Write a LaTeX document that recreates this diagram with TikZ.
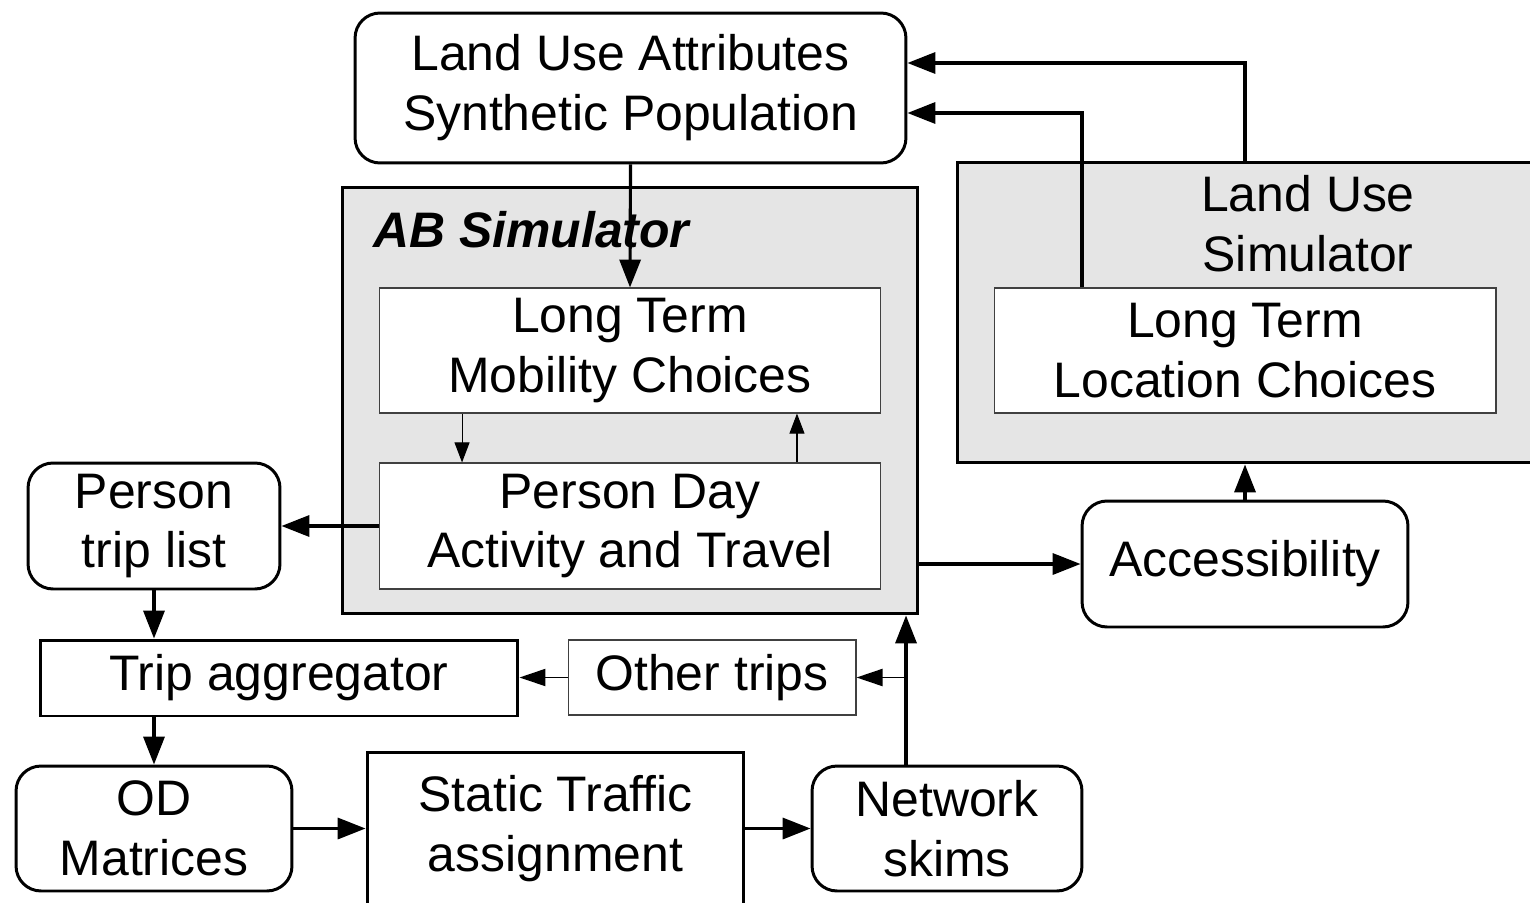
\documentclass[tikz,border=0pt]{standalone}
\usepackage{fontspec}
\setmainfont{Liberation Sans}
\usetikzlibrary{arrows.meta}

\begin{document}
\begin{tikzpicture}[x=0.02cm, y=-0.02cm,
    every node/.style={font=\fontsize{28.4}{34.1}\selectfont, align=center, inner sep=0pt},
    rbox/.style={draw, line width=1.7pt, rounded corners=0.5cm},
    tbox/.style={draw, line width=1.7pt},
    wbox/.style={draw=black!75, line width=0.6pt, fill=white},
    gbox/.style={draw, line width=1.7pt, fill=black!10},
    title/.style={font=\fontsize{28.4}{34.1}\selectfont\bfseries\itshape},
    arr/.style={-{Triangle[length=15.9pt,width=12pt]}, line width=1.8pt},
    marr/.style={-{Triangle[length=14.8pt,width=9.7pt]}, line width=1.1pt},
    tarr/.style={-{Triangle[length=11.4pt,width=8.5pt]}, line width=0.6pt}]
    \useasboundingbox (0,0) rectangle (1530,902);
    \clip (0,0) rectangle (1530,902);
    \node[rbox, minimum width=11.02cm, minimum height=3cm] (lua) at (630.5,88) {Land Use Attributes\\Synthetic Population};
    \node[gbox, minimum width=11.52cm, minimum height=8.54cm] (ab) at (630,400.5) {};
    \node[title, anchor=base west] (abt) at (373,247) {AB Simulator};
    \node[wbox, minimum width=10.04cm, minimum height=2.5cm] (ltm) at (630,350.5) {Long Term\\Mobility Choices};
    \node[wbox, minimum width=10.04cm, minimum height=2.52cm] (pda) at (630,526) {Person Day\\Activity and Travel};
    \node[gbox, minimum width=12.06cm, minimum height=6.02cm] (lus) at (1258.5,312.5) {};
    \node (lust) at (1308,224) {Land Use\\Simulator};
    \node[wbox, minimum width=10.04cm, minimum height=2.5cm] (ltl) at (1245,350.5) {Long Term\\Location Choices};
    \node[rbox, minimum width=5.04cm, minimum height=2.52cm] (ptl) at (154,526) {Person\\trip list};
    \node[tbox, minimum width=9.56cm, minimum height=1.52cm] (tag) at (279,678) {Trip aggregator};
    \node[wbox, minimum width=5.76cm, minimum height=1.5cm] (oth) at (712,677.5) {Other trips};
    \node[rbox, minimum width=5.52cm, minimum height=2.5cm] (od) at (154,828.5) {OD\\Matrices};
    \node[tbox, minimum width=7.54cm, minimum height=3.08cm] (sta) at (555.5,829) {Static Traffic\\assignment};
    \node[rbox, minimum width=5.4cm, minimum height=2.5cm] (nsk) at (947,828.5) {Network\\skims};
    \node[rbox, minimum width=6.52cm, minimum height=2.52cm] (acc) at (1245,564) {Accessibility};
    \coordinate (sk) at ([xshift=-0.82cm]nsk.north);
    \draw[arr] (lua.south) -- (ltm.north);
    \draw[tarr] ([xshift=-3.36cm]ltm.south) -- ([xshift=-3.36cm]pda.north);
    \draw[tarr] ([xshift=3.34cm]pda.north) -- ([xshift=3.34cm]ltm.south);
    \draw[arr] (pda.west) -- (pda.west -| ptl.east);
    \draw[arr] (ptl.south) -- (ptl.south |- tag.north);
    \draw[arr] (od.north |- tag.south) -- (od.north);
    \draw[arr] (od.east) -- (od.east -| sta.west);
    \draw[arr] (sta.east |- nsk.west) -- (nsk.west);
    \draw[arr] (sk) -- (sk |- ab.south);
    \draw[marr] (sk |- oth.east) -- (oth.east);
    \draw[marr] (oth.west) -- (oth.west -| tag.east);
    \draw[arr] (acc.west -| ab.east) -- (acc.west);
    \draw[arr] (acc.north) -- (acc.north |- lus.south);
    \draw[arr] (acc.north |- lus.north) |- ([yshift=0.5cm]lua.east);
    \draw[arr] ([xshift=-3.26cm]ltl.north) |- ([yshift=-0.5cm]lua.east);
\end{tikzpicture}
\end{document}
